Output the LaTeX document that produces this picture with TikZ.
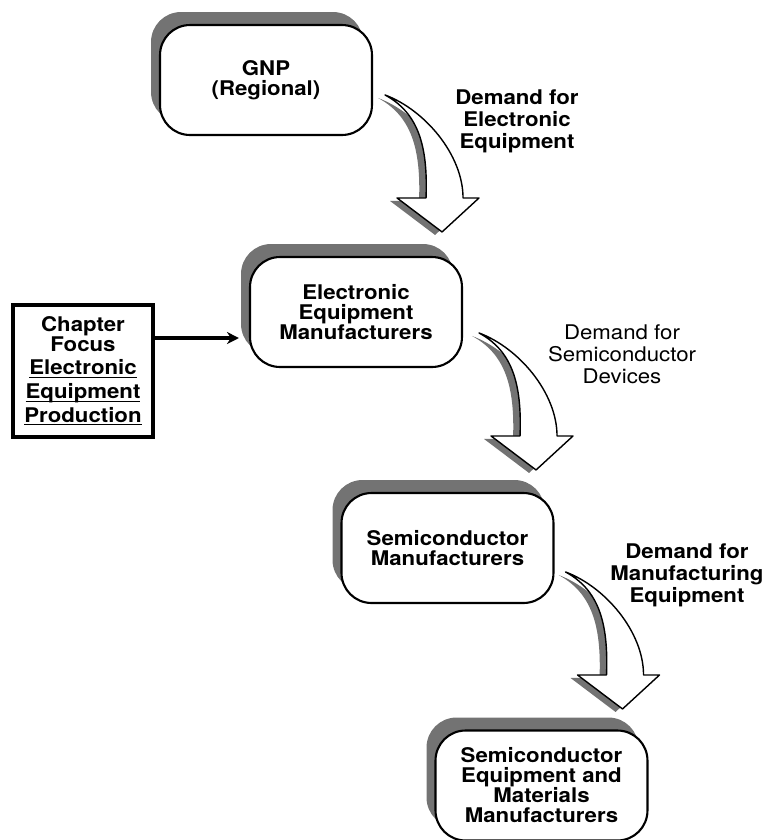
\documentclass[tikz,border=0pt]{standalone}
\usepackage{fontspec}
\setmainfont{TeX Gyre Heros}[FakeStretch=1.1]
\usetikzlibrary{shadows,arrows.meta,positioning,calc}
\newcommand\boxfont{\fontsize{11.5}{11.4}\selectfont\bfseries}
\newcommand\labelfont{\fontsize{11.5}{12.5}\selectfont}
\newcommand\focusline[1]{\underline{\smash{#1}}}
\newcommand\demandpath{(0,0) .. controls (40,15) and (78,60) .. (78,103)
  -- (94,103) -- (57,137) -- (12,103) -- (41,103)
  .. controls (43,50) and (33,18) .. cycle}
\tikzset{
  stage/.style={rectangle, draw, line width=1.2pt, fill=white,
                rounded corners=0.6cm, minimum width=4.24cm, minimum height=2.2cm,
                align=center, font=\boxfont,
                drop shadow={shadow xshift=-0.18cm, shadow yshift=0.26cm,
                             fill=black!55, opacity=1}},
  focus/.style={rectangle, draw, line width=2pt, fill=white,
                minimum width=2.8cm, minimum height=2.64cm,
                align=center, font=\boxfont},
  dlabel/.style={align=center, font=\labelfont\bfseries},
  ed/.style={-{Stealth[length=2.4mm, width=2.4mm]}, line width=2pt},
  demand arrow/.pic={
    \fill[black!55, shift={(-7,3)}] \demandpath;
    \filldraw[fill=white, draw=black, line width=0.8pt, line join=round] \demandpath;
  }
}
\begin{document}
\begin{tikzpicture}[x=0.02cm, y=-0.02cm]
\useasboundingbox (0,0) rectangle (767,840);
% chain of stages
\node[stage] (gnp)  at (266,80)    {GNP\\(Regional)};
\node[stage] (eem)  at (356,312)   {Electronic\\Equipment\\Manufacturers};
\node[stage] (sm)   at (447.5,548) {Semiconductor\\Manufacturers};
\node[stage] (semm) at (541.5,785.5) {Semiconductor\\Equipment and\\Materials\\Manufacturers};
\node[focus] (chap) at (83,371)    {Chapter\\Focus\\[2pt]\focusline{Electronic}\\[2pt]\focusline{Equipment}\\[2pt]\focusline{Production}};
% demand arrows
\pic at ($(gnp.north east)+(12,71)$) {demand arrow};
\pic at ($(eem.north east)+(16,77)$) {demand arrow};
\pic at ($(sm.north east)+(11,80)$)  {demand arrow};
\node[dlabel] (d1) at (517,121) {Demand for\\Electronic\\Equipment};
\node[dlabel, font=\labelfont] (d2) at (622,354) {Demand for\\Semiconductor\\Devices};
\node[dlabel] (d3) at (687,575) {Demand for\\Manufacturing\\Equipment};
% focus link
\coordinate (focusout) at ([yshift=0.66cm]chap.east);
\draw[ed, shorten >=0.2cm] (focusout) -- (focusout -| eem.west);
\end{tikzpicture}
\end{document}
